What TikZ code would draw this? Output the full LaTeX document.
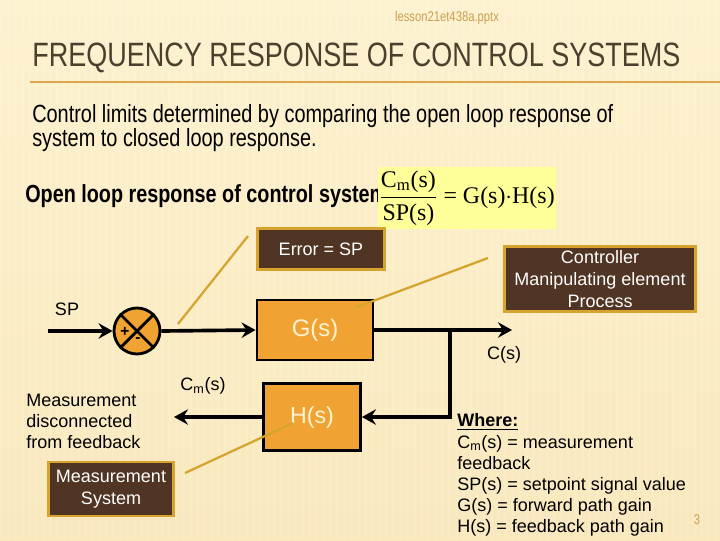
\documentclass[tikz,border=0pt]{standalone}
\usepackage{amsmath}
\usepackage{fontspec}
\setmainfont{Liberation Sans}
\newfontfamily\narrowfont{Liberation Sans}[FakeStretch=0.8]
\newfontfamily\formfont{Liberation Serif}
\usetikzlibrary{arrows.meta,calc}

\definecolor{slidebg}{RGB}{249,232,188}
\definecolor{slidetop}{RGB}{253,241,206}
\definecolor{titlebrown}{RGB}{77,63,45}
\definecolor{lessongold}{RGB}{200,160,80}
\definecolor{rulegold}{RGB}{222,166,72}
\definecolor{blockorange}{RGB}{240,163,50}
\definecolor{blocktext}{RGB}{255,243,214}
\definecolor{notebrown}{RGB}{80,52,36}
\definecolor{notegold}{RGB}{214,164,46}
\definecolor{formyellow}{RGB}{255,255,153}

\def\px{0.025cm}

\tikzset{
	block/.style={draw=black, line width=2pt, fill=blockorange, text=blocktext, inner sep=0pt},
	note/.style={draw=notegold, line width=2pt, fill=notebrown, text=white, align=center,
		inner sep=0pt, font=\fontsize{12.8}{15.5}\selectfont},
	signal/.style={line width=2.6pt, -{Stealth[length=10pt,width=11pt,inset=3.5pt]}},
	pointer/.style={draw=notegold, line width=1.6pt},
	lbl/.style={inner sep=0pt, font=\fontsize{12.8}{15}\selectfont},
}

\begin{document}
\begin{tikzpicture}[x=\px, y=-\px]

	% slide
	\useasboundingbox (0,0) rectangle (720,540);
	\shade[top color=slidetop, bottom color=slidebg] (0,0) rectangle (720,540);
	\foreach \x in {0,7,...,720} {
		\fill[white, opacity=0.13] (\x,0) rectangle ++(3,540);
	}

	% header
	\node[text=lessongold, inner sep=0pt, font=\narrowfont\fontsize{10}{11}\selectfont]
		(lesson) at (447,18) {lesson21et438a.pptx};
	\node[anchor=west, text=titlebrown, inner sep=0pt, font=\narrowfont\fontsize{24}{27}\selectfont]
		(title) at (32,58) {FREQUENCY RESPONSE OF CONTROL SYSTEMS};
	\coordinate (ruleL) at (30,82);
	\coordinate (ruleR) at (720,82);
	\draw[rulegold, line width=1.5pt] (ruleL) -- (ruleR);

	% text
	\node[anchor=west, inner sep=0pt, font=\narrowfont\fontsize{17.7}{20}\selectfont]
		(intro1) at (32,116) {Control limits determined by comparing the open loop response of};
	\node[anchor=west, inner sep=0pt, font=\narrowfont\fontsize{17.7}{20}\selectfont]
		(intro2) at (32,140) {system to closed loop response.};
	\node[anchor=west, inner sep=0pt, font=\narrowfont\bfseries\fontsize{17.6}{20}\selectfont]
		(openloop) at (25,196) {Open loop response of control system};

	% formula
	\fill[formyellow] (378,167) rectangle (556,229);
	\node[inner sep=0pt, font=\formfont\fontsize{17}{20}\selectfont] (formula) at (467,198)
		{$\dfrac{\text{C}_{\text{m}}\text{(s)}}{\text{SP(s)}}$ = G(s)$\cdot$H(s)};

	% blocks
	\node[circle, draw=black, line width=2pt, fill=blockorange, minimum size=46*\px, inner sep=0pt]
		(sum) at (137,331) {};
	\draw[line width=2pt] (sum.north west) -- (sum.south east);
	\draw[line width=2pt] (sum.north east) -- (sum.south west);
	\node[inner sep=0pt, font=\bfseries\fontsize{11}{11}\selectfont] (plus) at (125,332) {+};
	\node[inner sep=0pt, font=\bfseries\fontsize{11}{11}\selectfont] (minus) at (138,340) {-};

	\node[block, minimum width=116*\px, minimum height=60*\px, font=\fontsize{17}{20}\selectfont]
		(G) at (315,330) {G(s)};
	\node[block, minimum width=97*\px, minimum height=67*\px, font=\fontsize{16.5}{20}\selectfont]
		(H) at (312,417) {H(s)};

	% signals
	\coordinate (spin) at (48,331);
	\coordinate (cout) at (512,330);
	\coordinate (branch) at (450,330);
	\coordinate (mtip) at (174,417);

	\draw[signal] (spin) -- (sum.west);
	\draw[signal] (sum.east) -- (G.west);
	\draw[signal] (G.east) -- (cout);
	\draw[signal] (branch) |- (H.east);
	\draw[signal] (H.west) -- (mtip);

	% signal labels
	\node[lbl] (splbl) at (67,309) {SP};
	\node[lbl] (cslbl) at (504,355) {C(s)};
	\node[lbl] (cmlbl) at (203,386) {C$_{\text{m}}$(s)};
	\node[lbl, anchor=west, align=left] (discon) at (26,421)
		{Measurement\\disconnected\\from feedback};

	% notes
	\node[note, minimum width=127*\px, minimum height=41*\px] (err) at (321,249) {Error = SP};
	\node[note, minimum width=191*\px, minimum height=65*\px] (ctrl) at (600,279)
		{Controller\\Manipulating element\\Process};
	\node[note, minimum width=125*\px, minimum height=54*\px] (meas) at (111,489)
		{Measurement\\System};

	% pointers
	\coordinate (errfoot) at (248,236);
	\coordinate (errtip) at (178,324);
	\coordinate (ctrlfoot) at (488,258);
	\coordinate (ctrltip) at (357,307);
	\coordinate (measfoot) at (293,423);
	\coordinate (meastip) at (185,473);
	\draw[pointer] (errfoot) -- (errtip);
	\draw[pointer] (ctrlfoot) -- (ctrltip);
	\draw[pointer] (measfoot) -- (meastip);

	% legend
	\node[lbl, anchor=west, align=left, font=\fontsize{12.8}{15}\selectfont] (where) at (457,475)
		{\underline{\textbf{Where:}}\\
		C$_{\text{m}}$(s) = measurement\\
		feedback\\
		SP(s) = setpoint signal value\\
		G(s) = forward path gain\\
		H(s) = feedback path gain};

	\node[text=lessongold, inner sep=0pt, font=\narrowfont\fontsize{10}{11}\selectfont]
		(pagenum) at (697,520) {3};

\end{tikzpicture}
\end{document}
